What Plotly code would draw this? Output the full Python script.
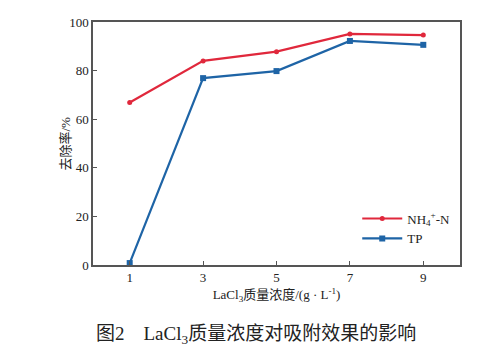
import plotly.graph_objects as go

conc = [1, 3, 5, 7, 9]
nh4_removal = [66.9, 84.0, 87.8, 95.1, 94.6]
tp_removal = [0.8, 76.9, 79.8, 92.2, 90.6]
x_ticks = [1, 3, 5, 7, 9]
y_ticks = [0, 20, 40, 60, 80, 100]

red = "#e0283c"
blue = "#1e64a6"
serif = "Liberation Serif, Times New Roman, serif"
cjk = "Liberation Serif, Noto Sans CJK SC, serif"

fig = go.Figure()
fig.add_trace(go.Scatter(x=conc, y=nh4_removal, mode="lines+markers",
                         name="NH<sub>4</sub><sup>+</sup>-N",
                         line=dict(color=red, width=2.2),
                         marker=dict(symbol="circle", size=5, color=red)))
fig.add_trace(go.Scatter(x=conc, y=tp_removal, mode="lines+markers",
                         name="TP",
                         line=dict(color=blue, width=2.2),
                         marker=dict(symbol="square", size=6, color=blue)))

axis_common = dict(showline=True, linecolor="#555555", linewidth=1.5, mirror=True,
                   ticks="inside", ticklen=4, tickcolor="#555555", tickwidth=1.2,
                   showgrid=False, zeroline=False, automargin=False,
                   tickfont=dict(family=serif, size=13, color="#222222"))

fig.update_layout(
    width=504, height=357,
    margin=dict(l=85, r=52, t=14, b=100),
    paper_bgcolor="white", plot_bgcolor="white",
    showlegend=True,
    legend=dict(x=0.72, y=0.15, xanchor="left", yanchor="middle",
                bgcolor="rgba(0,0,0,0)", font=dict(family=serif, size=13, color="#222222"),
                itemwidth=40, tracegroupgap=4),
    xaxis=dict(range=[0, 10], tickvals=x_ticks,
               title=dict(text="LaCl<sub>3</sub>质量浓度/(g · L<sup>-1</sup>)",
                          font=dict(family=cjk, size=13, color="#222222"), standoff=6),
               **axis_common),
    yaxis=dict(range=[0, 100], tickvals=y_ticks, **axis_common),
    annotations=[
        dict(text="去除率/%", textangle=-90,
             xref="paper", yref="paper", x=-0.076, y=0.5,
             xanchor="center", yanchor="middle", showarrow=False,
             font=dict(family=cjk, size=13, color="#222222")),
        dict(text="图2\u3000LaCl<sub>3</sub>质量浓度对吸附效果的影响",
             xref="paper", yref="paper", x=0.4455, y=-0.287,
             xanchor="center", yanchor="middle", showarrow=False,
             font=dict(family=cjk, size=19, color="#222222")),
    ],
)

fig.write_html("out.html")
